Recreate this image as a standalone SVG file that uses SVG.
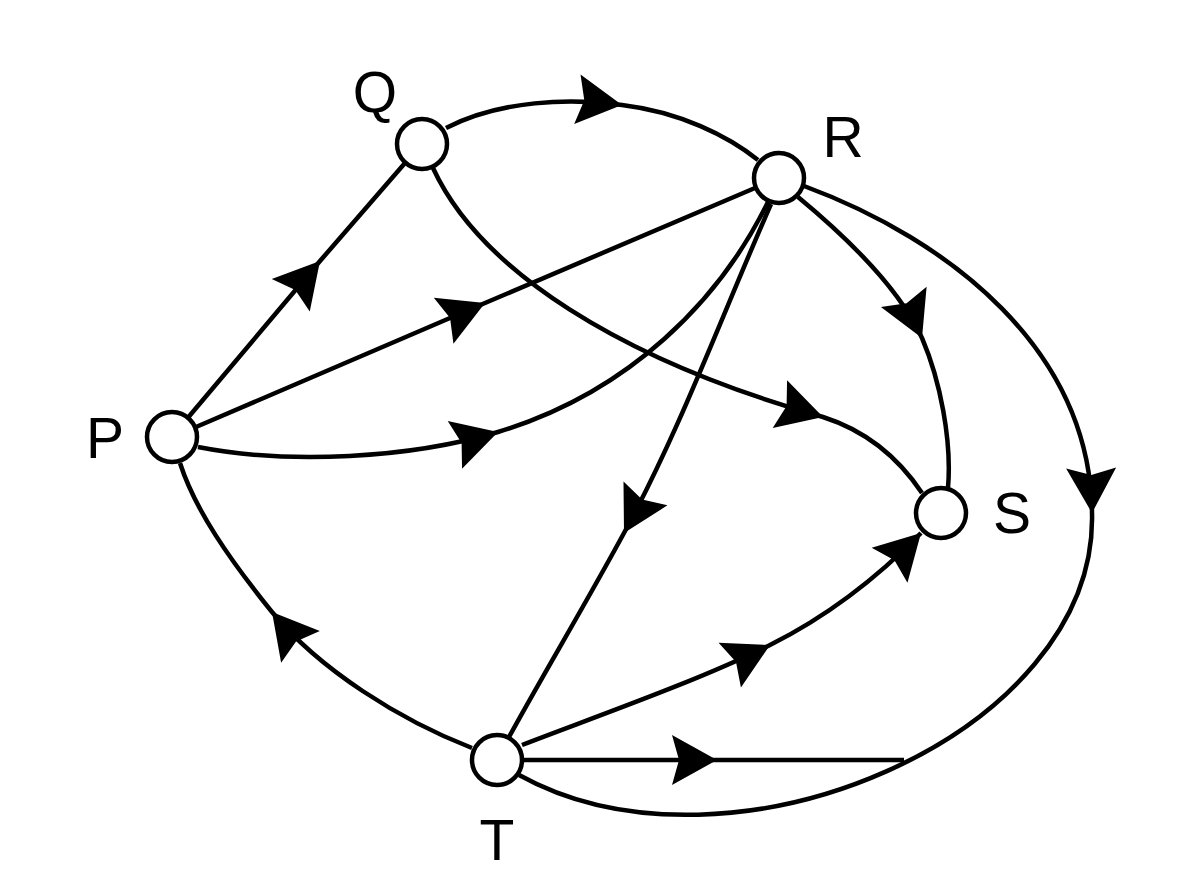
<svg xmlns="http://www.w3.org/2000/svg" width="1200" height="896" viewBox="0 0 1200 896">
<style>
.e{fill:none;stroke:#000;stroke-width:4.5;marker-mid:url(#ah)}
.n{fill:#fff;stroke:#000;stroke-width:4.5}
.l{font-family:"Liberation Sans",Arial,sans-serif;font-size:57px;fill:#000;text-anchor:middle}
</style>
<defs>
<marker id="ah" markerUnits="userSpaceOnUse" orient="auto" markerWidth="100" markerHeight="100" viewBox="-50 -50 100 100" refX="0" refY="0" overflow="visible">
<path d="M0,0 L-45,-25 L-38,0 L-45,25 Z" fill="#000"/>
</marker>
</defs>
<rect width="1200" height="896" fill="#fff"/>
<g id="connectors">
<path class="e" d="M186,420 L320,261 L405,163"/>
<path class="e" d="M446,128 C 500,100 570,98 622,105 C 680,112 728,136 758,160"/>
<path class="e" d="M196,427 L485,303 L755,188"/>
<path class="e" d="M198,447 C 290,465 410,458 498,432 C 630,392 720,300 768,202"/>
<path class="e" d="M433,168 C 480,270 620,360 823,417 C 870,432 900,460 922,493"/>
<path class="e" d="M798,197 C 850,240 900,290 922,338 C 940,380 952,440 948,488"/>
<path class="e" d="M771,204 C 720,320 680,430 624,533 C 585,605 540,680 509,737"/>
<path class="e" d="M804,186 C 950,240 1090,350 1092,513 C 1098,735 730,892 519,775"/>
<path class="e" d="M523,760 L717,760 L904,760"/>
<path class="e" d="M522,745 C 600,715 700,680 770,645 C 830,615 880,575 921,533" marker-end="url(#ah)"/>
<path class="e" d="M472,748 C 400,720 320,670 272,612 C 230,560 195,510 180,463"/>
</g>
<g id="node-Q"><circle class="n" cx="422" cy="144" r="25"/><text class="l" x="375" y="112">Q</text></g>
<g id="node-R"><circle class="n" cx="779" cy="178" r="25"/><text class="l" x="843" y="157">R</text></g>
<g id="node-P"><circle class="n" cx="172" cy="437" r="25"/><text class="l" x="105" y="458">P</text></g>
<g id="node-S"><circle class="n" cx="941" cy="513" r="25"/><text class="l" x="1012" y="533">S</text></g>
<g id="node-T"><circle class="n" cx="497" cy="760" r="25"/><text class="l" x="497" y="860">T</text></g>
</svg>
